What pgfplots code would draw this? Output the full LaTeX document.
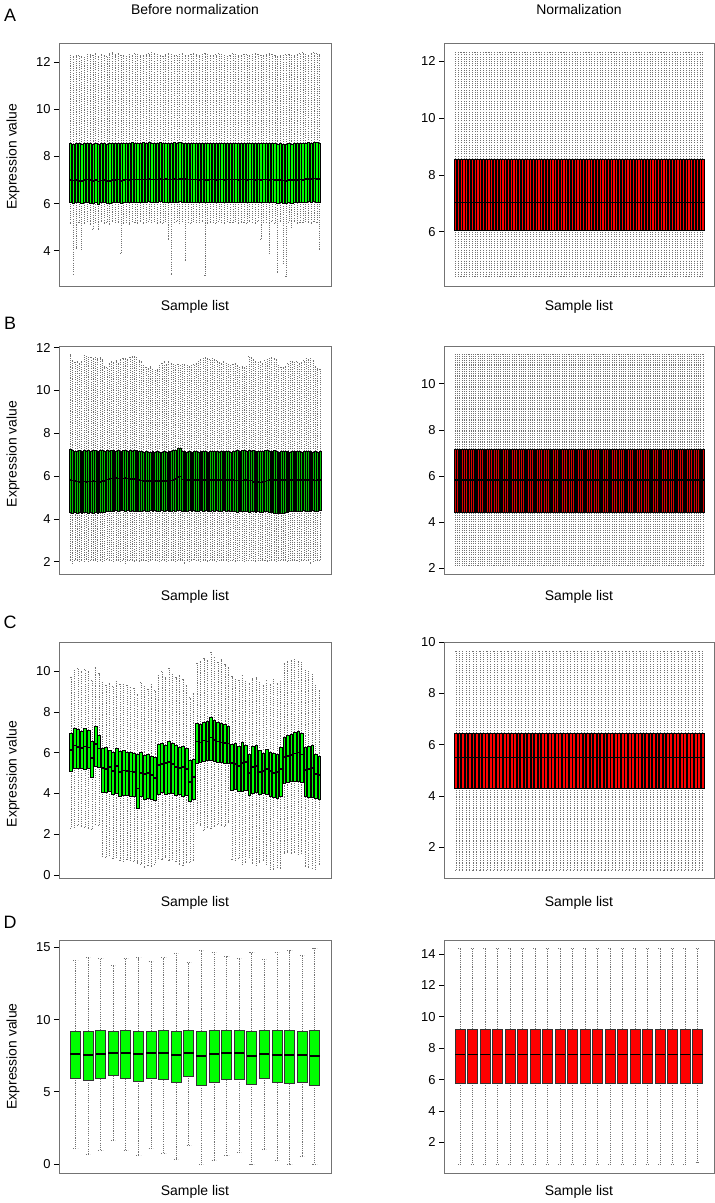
\documentclass[border=0pt]{standalone}
\usepackage{pgfplots}
\pgfplotsset{compat=1.18}
\usepackage{pgfplotstable}
\usepgfplotslibrary{statistics}
\usepackage{fontspec}
\setmainfont{Liberation Sans}

% ---------- Panel A, before normalization (90 samples) ----------
\pgfplotstableread{
lw lq med uq uw
5.15 6.08 7.01 8.55 12.28
3.00 6.02 6.98 8.53 12.25
4.10 6.05 7.00 8.56 12.31
5.22 6.07 6.97 8.57 12.30
4.05 6.01 6.95 8.52 12.26
5.18 6.04 7.00 8.55 12.22
5.25 6.08 7.02 8.58 12.35
5.12 6.03 6.99 8.56 12.33
4.90 6.00 6.96 8.54 12.29
5.20 6.06 7.00 8.57 12.40
4.90 5.99 6.94 8.53 12.27
5.24 6.05 6.98 8.55 12.36
5.16 6.07 7.01 8.58 12.30
5.21 6.02 6.97 8.54 12.24
5.13 6.00 6.95 8.55 12.38
5.26 6.04 6.99 8.57 12.41
5.19 6.06 7.01 8.56 12.33
5.23 6.08 7.02 8.58 12.37
3.90 6.01 6.97 8.55 12.29
5.17 6.05 7.00 8.57 12.32
5.22 6.07 7.02 8.58 12.25
5.14 6.04 7.01 8.56 12.34
5.25 6.08 7.03 8.59 12.30
5.20 6.06 7.02 8.57 12.39
5.18 6.07 7.03 8.58 12.36
5.23 6.05 7.02 8.56 12.31
5.16 6.08 7.03 8.59 12.28
5.21 6.06 7.02 8.57 12.33
5.27 6.09 7.04 8.60 12.37
5.19 6.07 7.03 8.58 12.42
5.24 6.08 7.02 8.57 12.40
5.15 6.06 7.03 8.58 12.35
5.22 6.09 7.04 8.59 12.30
5.18 6.07 7.03 8.57 12.27
5.26 6.08 7.04 8.58 12.33
4.50 6.05 7.02 8.56 12.38
3.00 6.06 7.03 8.57 12.36
5.20 6.08 7.04 8.59 12.31
5.23 6.07 7.03 8.58 12.29
5.17 6.09 7.04 8.59 12.34
5.25 6.08 7.05 8.58 12.37
3.60 6.07 7.04 8.57 12.32
5.21 6.08 7.03 8.58 12.30
5.16 6.06 7.02 8.57 12.35
5.24 6.08 7.03 8.58 12.39
5.19 6.07 7.02 8.57 12.33
5.22 6.05 7.01 8.56 12.30
5.27 6.07 7.02 8.58 12.36
2.95 6.04 7.00 8.56 12.40
5.18 6.06 7.01 8.57 12.34
5.23 6.08 7.03 8.58 12.31
5.20 6.07 7.02 8.57 12.28
5.15 6.05 7.01 8.56 12.33
5.25 6.08 7.03 8.58 12.37
5.21 6.07 7.02 8.57 12.35
5.17 6.05 7.01 8.55 12.30
5.24 6.08 7.03 8.58 12.27
5.19 6.06 7.02 8.57 12.32
5.22 6.07 7.03 8.58 12.38
5.26 6.08 7.02 8.57 12.34
5.18 6.06 7.01 8.56 12.29
5.23 6.08 7.03 8.58 12.31
5.20 6.07 7.02 8.57 12.36
5.16 6.05 7.00 8.55 12.33
5.25 6.07 7.02 8.57 12.30
5.21 6.08 7.03 8.58 12.35
5.17 6.06 7.01 8.56 12.39
5.24 6.07 7.02 8.57 12.34
4.50 6.05 7.00 8.55 12.31
5.19 6.07 7.02 8.57 12.28
5.22 6.08 7.03 8.58 12.33
3.90 6.04 7.00 8.55 12.37
5.26 6.07 7.02 8.57 12.35
5.18 6.06 7.01 8.56 12.30
3.10 6.02 6.99 8.54 12.26
5.23 6.05 7.00 8.56 12.32
3.45 6.01 6.98 8.53 12.29
2.90 6.00 6.97 8.53 12.34
5.20 6.04 7.00 8.55 12.36
5.00 6.03 6.99 8.54 12.31
5.24 6.06 7.01 8.56 12.28
5.17 6.05 7.00 8.55 12.33
5.22 6.07 7.02 8.57 12.38
5.19 6.06 7.01 8.56 12.41
5.25 6.08 7.04 8.58 12.36
5.21 6.09 7.05 8.59 12.32
5.18 6.08 7.05 8.58 12.39
5.23 6.09 7.06 8.60 12.42
5.20 6.08 7.05 8.59 12.37
4.05 6.07 7.04 8.58 12.33
}\tabAL

% ---------- Panel A, normalized (same values for every sample) ----------
\pgfplotstableread{
lw lq med uq uw
4.44 6.07 7.03 8.57 12.33
}\tabAR

% ---------- Panel B, before normalization (110 samples) ----------
\pgfplotstableread{
lw lq med uq uw
2.05 4.30 5.82 7.27 11.72
1.92 4.28 5.80 7.22 11.40
2.06 4.31 5.76 7.18 11.33
2.08 4.27 5.74 7.15 11.36
2.03 4.30 5.73 7.19 11.30
2.07 4.26 5.75 7.16 11.38
2.04 4.29 5.74 7.20 11.64
2.09 4.32 5.73 7.17 11.60
2.02 4.27 5.75 7.21 11.55
2.06 4.30 5.74 7.18 11.58
2.08 4.28 5.76 7.22 11.52
2.05 4.31 5.74 7.19 11.56
2.03 4.27 5.75 7.16 11.49
2.07 4.29 5.73 7.20 11.54
2.04 4.30 5.76 7.23 11.45
2.06 4.32 5.78 7.18 11.12
2.09 4.35 5.84 7.21 11.08
2.05 4.37 5.86 7.17 11.30
2.07 4.36 5.88 7.19 11.36
2.03 4.38 5.89 7.22 11.33
2.06 4.40 5.90 7.18 11.40
2.08 4.37 5.88 7.20 11.28
2.04 4.39 5.87 7.16 11.47
2.06 4.41 5.89 7.19 11.52
1.93 4.38 5.90 7.21 11.50
2.07 4.40 5.88 7.17 11.45
2.05 4.37 5.86 7.20 11.55
2.08 4.39 5.87 7.18 11.60
2.04 4.36 5.85 7.22 11.62
2.06 4.38 5.84 7.19 11.57
2.03 4.35 5.82 7.17 11.40
2.07 4.37 5.79 7.15 11.35
2.05 4.39 5.77 7.13 11.20
2.08 4.36 5.78 7.16 11.10
2.04 4.38 5.76 7.14 11.05
2.06 4.40 5.77 7.12 11.15
2.09 4.37 5.78 7.15 11.00
2.05 4.39 5.76 7.13 10.95
2.07 4.36 5.77 7.16 10.98
2.03 4.38 5.78 7.14 11.20
2.06 4.40 5.76 7.12 11.30
2.08 4.37 5.77 7.15 11.35
2.04 4.39 5.78 7.13 11.25
2.06 4.36 5.76 7.16 11.38
2.05 4.38 5.80 7.18 11.30
2.07 4.40 5.82 7.20 11.22
2.04 4.37 5.85 7.23 11.18
2.06 4.39 5.95 7.30 11.25
2.08 4.41 5.98 7.32 11.20
2.05 4.38 5.84 7.18 11.25
1.92 4.36 5.82 7.15 11.22
2.07 4.38 5.81 7.14 11.18
2.04 4.40 5.83 7.16 11.15
2.06 4.37 5.82 7.13 11.20
2.09 4.39 5.81 7.15 11.24
2.05 4.36 5.83 7.17 11.30
2.07 4.38 5.82 7.14 11.35
2.03 4.40 5.81 7.16 11.45
2.06 4.37 5.83 7.18 11.52
2.08 4.39 5.82 7.15 11.55
2.04 4.36 5.81 7.13 11.50
2.06 4.38 5.83 7.16 11.48
2.05 4.40 5.82 7.18 11.53
2.07 4.37 5.81 7.15 11.46
2.04 4.39 5.83 7.17 11.40
2.06 4.36 5.82 7.14 11.32
2.08 4.38 5.81 7.16 11.28
2.05 4.40 5.83 7.18 11.35
2.07 4.37 5.82 7.15 11.30
2.03 4.39 5.81 7.17 11.22
2.06 4.36 5.83 7.14 11.18
2.08 4.38 5.82 7.16 11.25
2.04 4.35 5.80 7.18 11.30
2.06 4.33 5.79 7.20 11.20
2.05 4.36 5.81 7.17 11.10
2.07 4.34 5.80 7.19 11.12
2.04 4.37 5.82 7.21 11.08
2.06 4.35 5.81 7.18 11.15
2.08 4.33 5.80 7.20 11.62
2.05 4.36 5.79 7.17 11.58
2.07 4.34 5.72 7.19 11.45
2.04 4.32 5.70 7.16 11.38
2.06 4.35 5.71 7.18 11.32
2.08 4.33 5.70 7.15 11.36
2.05 4.31 5.72 7.17 11.30
2.07 4.34 5.74 7.19 11.40
2.04 4.36 5.80 7.21 11.48
2.06 4.33 5.82 7.18 11.52
2.05 4.30 5.81 7.16 11.55
2.07 4.28 5.83 7.19 11.50
2.04 4.27 5.82 7.17 11.45
2.06 4.25 5.81 7.14 11.20
2.08 4.26 5.83 7.16 11.10
2.05 4.28 5.82 7.18 11.08
2.07 4.30 5.81 7.15 11.15
2.04 4.33 5.83 7.17 11.28
2.06 4.35 5.82 7.14 11.35
2.08 4.37 5.81 7.16 11.38
2.05 4.38 5.83 7.18 11.32
2.07 4.36 5.82 7.15 11.36
2.04 4.38 5.81 7.17 11.30
2.06 4.37 5.83 7.14 11.34
2.08 4.39 5.82 7.16 11.40
2.05 4.36 5.81 7.18 11.50
2.07 4.38 5.83 7.15 11.45
1.92 4.37 5.82 7.17 11.52
2.04 4.39 5.81 7.14 11.40
2.06 4.36 5.80 7.16 11.12
2.08 4.38 5.82 7.13 11.05
2.05 4.40 5.81 7.15 11.02
}\tabBL

\pgfplotstableread{
lw lq med uq uw
2.10 4.41 5.81 7.16 11.29
}\tabBR

% ---------- Panel C, before normalization (72 samples) ----------
\pgfplotstableread{
lw lq med uq uw
2.30 5.10 6.14 6.96 9.72
2.35 5.25 6.35 7.22 10.05
2.42 5.22 6.28 7.15 10.13
2.38 5.24 6.22 7.08 9.98
2.33 5.21 6.30 7.18 10.08
2.28 5.26 6.25 7.12 10.01
2.22 4.80 5.75 6.55 9.55
2.50 5.33 6.42 7.30 10.21
2.45 5.30 6.20 6.87 9.90
0.90 4.08 5.25 6.20 9.45
0.85 4.05 5.20 6.25 9.30
0.95 4.10 5.30 6.10 9.40
0.80 3.95 5.10 6.05 9.25
0.88 4.02 5.35 6.22 9.50
0.70 3.88 5.05 6.08 9.35
0.68 3.90 5.12 6.10 9.38
0.75 3.92 5.10 6.05 9.30
0.72 3.88 5.08 6.02 9.20
0.65 3.85 5.05 6.00 9.15
0.60 3.30 4.25 5.95 8.85
0.55 3.85 5.00 6.02 9.45
0.40 3.70 4.95 5.90 9.25
0.50 3.75 5.00 5.95 9.10
0.45 3.72 4.90 5.85 9.35
0.55 3.65 4.75 5.80 9.05
0.80 3.95 5.40 6.40 9.80
0.75 4.05 5.45 6.45 10.00
0.85 3.98 5.50 6.35 9.70
0.70 4.00 5.55 6.55 10.15
0.78 4.02 5.45 6.48 9.85
0.65 3.90 5.30 6.35 9.70
0.55 3.95 5.25 6.25 9.78
0.50 3.85 5.30 6.30 9.60
0.60 3.92 5.20 6.20 9.30
0.62 3.60 4.55 5.65 8.70
0.70 3.70 4.80 5.70 8.90
2.55 5.50 6.55 7.45 10.40
2.45 5.55 6.50 7.40 10.50
2.20 5.60 6.60 7.50 10.65
2.35 5.62 6.55 7.55 10.55
2.30 5.65 6.75 7.75 10.95
2.40 5.58 6.62 7.60 10.70
2.50 5.55 6.55 7.50 10.45
2.42 5.52 6.50 7.45 10.60
2.38 5.50 6.48 7.42 10.35
2.60 5.48 6.45 7.30 10.20
0.75 4.15 5.50 6.40 9.75
0.70 4.20 5.45 6.45 9.60
0.80 4.12 5.35 6.30 9.55
0.55 4.10 5.50 6.50 9.80
0.60 4.15 5.55 6.35 9.50
0.85 3.90 5.00 5.95 9.40
0.58 4.00 5.30 6.30 9.65
0.50 4.05 5.35 6.35 9.70
0.62 3.95 5.05 6.10 9.45
0.70 4.02 5.10 6.00 9.30
0.55 3.98 5.20 6.15 9.55
0.30 3.85 5.10 6.05 9.35
0.28 3.80 5.00 6.00 9.60
0.40 3.75 5.05 5.95 9.40
0.35 3.85 5.20 6.25 9.50
1.05 4.50 5.80 6.75 10.40
1.10 4.55 5.85 6.85 10.50
1.08 4.60 5.90 6.90 10.55
1.12 4.62 5.95 7.00 10.60
1.00 4.58 6.00 7.05 10.50
1.05 4.55 5.92 6.95 10.45
0.45 3.85 5.15 6.25 10.05
0.40 3.80 5.20 6.30 10.00
0.35 3.82 5.25 6.35 9.85
0.30 3.75 4.95 5.95 9.30
0.55 3.70 4.90 5.85 9.05
}\tabCL

\pgfplotstableread{
lw lq med uq uw
1.10 4.32 5.50 6.46 9.66
}\tabCR

% ---------- Panel D (20 samples) ----------
\pgfplotstableread{
lw lq med uq uw
1.09 5.95 7.64 9.21 14.12
0.69 5.79 7.57 9.17 14.28
0.93 5.90 7.64 9.26 14.24
1.67 6.13 7.71 9.21 13.73
0.93 5.90 7.69 9.24 14.24
0.63 5.74 7.59 9.21 14.28
1.09 5.95 7.69 9.21 14.07
0.76 5.83 7.69 9.24 14.28
0.30 5.63 7.57 9.21 14.58
1.32 6.09 7.69 9.24 13.96
0.00 5.44 7.45 9.17 14.81
0.23 5.67 7.59 9.26 14.65
0.63 5.83 7.71 9.26 14.35
0.81 5.86 7.69 9.24 14.24
0.00 5.51 7.48 9.17 14.65
1.00 5.95 7.64 9.24 14.19
0.28 5.63 7.57 9.26 14.65
0.00 5.56 7.55 9.24 14.77
0.53 5.67 7.57 9.19 14.42
0.00 5.44 7.48 9.24 14.93
}\tabDL

\pgfplotstableread{
lw lq med uq uw
0.62 5.77 7.60 9.21 14.36
0.62 5.77 7.60 9.21 14.36
0.62 5.77 7.60 9.21 14.36
0.62 5.77 7.60 9.21 14.36
0.62 5.77 7.60 9.21 14.36
0.62 5.77 7.60 9.21 14.36
0.62 5.77 7.60 9.21 14.36
0.62 5.77 7.60 9.21 14.36
0.62 5.77 7.60 9.21 14.36
0.62 5.77 7.60 9.21 14.36
0.62 5.77 7.60 9.21 14.36
0.62 5.77 7.60 9.21 14.36
0.62 5.77 7.60 9.21 14.36
0.62 5.77 7.60 9.21 14.36
0.62 5.77 7.60 9.21 14.36
0.62 5.77 7.60 9.21 14.36
0.62 5.77 7.60 9.21 14.36
0.62 5.77 7.60 9.21 14.36
0.62 5.77 7.60 9.21 14.36
0.72 5.77 7.60 9.21 14.36
}\tabDR

% draw one prepared boxplot from row #2 of table #1 at x position #3
\newcommand\boxrow[3]{%
  \pgfplotstablegetelem{#2}{lw}\of#1\let\vlw\pgfplotsretval
  \pgfplotstablegetelem{#2}{lq}\of#1\let\vlq\pgfplotsretval
  \pgfplotstablegetelem{#2}{med}\of#1\let\vmed\pgfplotsretval
  \pgfplotstablegetelem{#2}{uq}\of#1\let\vuq\pgfplotsretval
  \pgfplotstablegetelem{#2}{uw}\of#1\let\vuw\pgfplotsretval
  \pgfmathtruncatemacro\vpos{#3}%
  \edef\tmp{\noexpand\addplot[boxplot prepared={draw position=\vpos, lower whisker=\vlw, lower quartile=\vlq, median=\vmed, upper quartile=\vuq, upper whisker=\vuw}] coordinates {};}%
  \tmp
}

\pgfplotsset{
  panel/.style={
    scale only axis,
    axis line style={black!55, line width=0.8bp},
    xtick=\empty,
    ytick pos=left,
    tick align=outside,
    major tick length=5bp,
    tick style={black, line width=0.6bp},
    ticklabel style={font=\fontsize{13}{15}\selectfont},
    /pgf/number format/assume math mode=true,
    boxplot/draw direction=y,
    boxplot/box extend=0.8,
    boxplot/whisker extend=0.35,
    boxplot/every whisker/.style={black!55, line width=0.45bp, dash pattern=on 1.1bp off 1.1bp},
    boxplot/every median/.style={black, line width=1.6bp},
    boxplot/every box/.style={draw=black, line width=0.3bp},
  },
  leftpanel/.style={at={(59bp,#1)}, anchor=north west, width=272bp, ylabel={Expression value}},
  rightpanel/.style={at={(444bp,#1)}, anchor=north west, width=270bp},
  xlab/.style={xlabel={Sample list}, every axis x label/.style={at={(axis description cs:0.5,#1)}, anchor=center, font=\fontsize{14}{16}\selectfont}},
  ylab/.style={every axis y label/.style={at={(axis description cs:-0.169,#1)}, rotate=90, anchor=center, font=\fontsize{14}{16}\selectfont}},
}

\begin{document}
\begin{tikzpicture}
\path[use as bounding box] (0,0) rectangle (715bp,-1203bp);

\node[font=\fontsize{14}{16}\selectfont] at (195bp,-9.5bp) {Before normalization};
\node[font=\fontsize{14}{16}\selectfont] at (579bp,-9.5bp) {Normalization};
\node[font=\fontsize{18}{20}\selectfont] at (10bp,-15bp) {A};
\node[font=\fontsize{18}{20}\selectfont] at (10bp,-323bp) {B};
\node[font=\fontsize{18}{20}\selectfont] at (10bp,-622bp) {C};
\node[font=\fontsize{18}{20}\selectfont] at (10bp,-922bp) {D};

% ===== Row A =====
\begin{axis}[panel, leftpanel=-43bp, height=243bp, xlab=-0.085, ylab=0.532,
  xmin=-3.1, xmax=94.1, ymin=2.5, ymax=12.82, ytick={4,6,8,10,12},
  boxplot/every box/.append style={fill=green}]
\pgfplotsinvokeforeach{0,...,89}{\boxrow{\tabAL}{#1}{#1+1}}
\end{axis}

\begin{axis}[panel, rightpanel=-43bp, height=243bp, xlab=-0.085,
  xmin=-3.1, xmax=94.1, ymin=4.09, ymax=12.65, ytick={6,8,10,12},
  boxplot/every box/.append style={fill=red}]
\pgfplotsinvokeforeach{1,...,90}{\boxrow{\tabAR}{0}{#1}}
\end{axis}

% ===== Row B =====
\begin{axis}[panel, leftpanel=-346.7bp, height=227.3bp, xlab=-0.0999, ylab=0.528,
  xmin=-3.9, xmax=114.9, ymin=1.42, ymax=12.05, ytick={2,4,6,8,10,12},
  boxplot/every box/.append style={fill=green!75!black}]
\pgfplotsinvokeforeach{0,...,109}{\boxrow{\tabBL}{#1}{#1+1}}
\end{axis}

\begin{axis}[panel, rightpanel=-346.7bp, height=227.3bp, xlab=-0.0999,
  xmin=-3.9, xmax=114.9, ymin=1.74, ymax=11.61, ytick={2,4,6,8,10},
  boxplot/every box/.append style={fill=red!85!black}]
\pgfplotsinvokeforeach{1,...,110}{\boxrow{\tabBR}{0}{#1}}
\end{axis}

% ===== Row C =====
\begin{axis}[panel, leftpanel=-642bp, height=236bp, xlab=-0.1047, ylab=0.44,
  xmin=-2.38, xmax=75.38, ymin=-0.15, ymax=11.43, ytick={0,2,4,6,8,10},
  boxplot/every box/.append style={fill=green}]
\pgfplotsinvokeforeach{0,...,71}{\boxrow{\tabCL}{#1}{#1+1}}
\end{axis}

\begin{axis}[panel, rightpanel=-642bp, height=236bp, xlab=-0.1047,
  xmin=-2.38, xmax=75.38, ymin=0.79, ymax=10.01, ytick={2,4,6,8,10},
  boxplot/every box/.append style={fill=red}]
\pgfplotsinvokeforeach{1,...,72}{\boxrow{\tabCR}{0}{#1}}
\end{axis}

% ===== Row D =====
\begin{axis}[panel, leftpanel=-940bp, height=233bp, xlab=-0.0803, ylab=0.5,
  xmin=-0.3, xmax=21.3, ymin=-0.63, ymax=15.51, ytick={0,5,10,15},
  boxplot/every box/.append style={fill=green, line width=0.6bp, draw=black!80},
  boxplot/every median/.append style={line width=1.8bp},
  boxplot/every whisker/.append style={line width=0.6bp}]
\pgfplotsinvokeforeach{0,...,19}{\boxrow{\tabDL}{#1}{#1+1}}
\end{axis}

\begin{axis}[panel, rightpanel=-940bp, height=233.3bp, xlab=-0.0803,
  xmin=-0.3, xmax=21.3, ymin=0.03, ymax=14.89, ytick={2,4,6,8,10,12,14},
  boxplot/every box/.append style={fill=red, line width=0.6bp, draw=black!80},
  boxplot/every median/.append style={line width=1.8bp},
  boxplot/every whisker/.append style={line width=0.6bp}]
\pgfplotsinvokeforeach{0,...,19}{\boxrow{\tabDR}{#1}{#1+1}}
\end{axis}
\end{tikzpicture}
\end{document}
